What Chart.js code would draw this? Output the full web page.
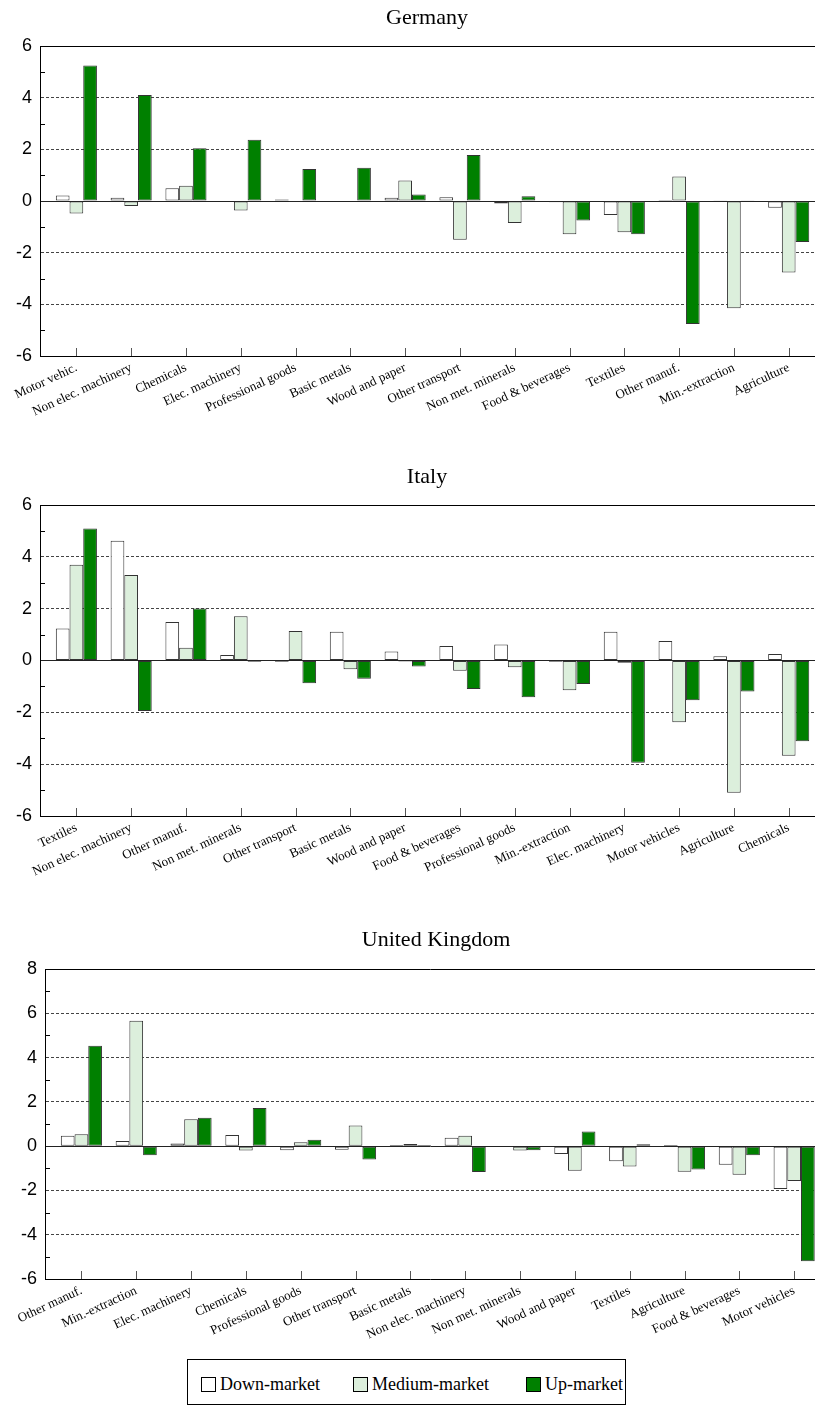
<!DOCTYPE html>
<html>
<head>
<meta charset="utf-8">
<script src="https://cdn.jsdelivr.net/npm/chart.js@4.4.1/dist/chart.umd.min.js"></script>
<style>
body { margin: 0; background: #fff; width: 815px; height: 1407px; position: relative; overflow: hidden; }
canvas { position: absolute; left: 0; }
.title { position: absolute; font-family: "Liberation Serif", "Times New Roman", serif; font-size: 22px; line-height: 22px; white-space: nowrap; transform: translateX(-50%); z-index: 2; }
#legend { position: absolute; left: 187px; top: 1359px; width: 439px; height: 46px; border: 1px solid #000; box-sizing: border-box; font-family: "Liberation Serif", "Times New Roman", serif; font-size: 18px; }
#legend .item { position: absolute; top: 15px; height: 18px; line-height: 18px; display: flex; align-items: center; white-space: nowrap; }
#legend .item i { display: inline-block; width: 15px; height: 15px; border: 1px solid #000; box-sizing: border-box; margin-right: 4px; }
</style>
</head>
<body>
<div class="title" style="left:427px; top:6px">Germany</div>
<div class="title" style="left:427px; top:465px">Italy</div>
<div class="title" style="left:436px; top:928px">United Kingdom</div>

<canvas id="de" width="815" height="430" style="top:0px"></canvas>
<canvas id="it" width="815" height="450" style="top:440px"></canvas>
<canvas id="uk" width="815" height="450" style="top:900px"></canvas>

<div id="legend">
  <span class="item" style="left:13px"><i style="background:#ffffff"></i>Down-market</span>
  <span class="item" style="left:165px"><i style="background:#dcefdc"></i>Medium-market</span>
  <span class="item" style="left:338px"><i style="background:#008000"></i>Up-market</span>
</div>

<script>
// Germany
var deCats = ['Motor vehic.', 'Non elec. machinery', 'Chemicals', 'Elec. machinery', 'Professional goods', 'Basic metals', 'Wood and paper', 'Other transport', 'Non met. minerals', 'Food & beverages', 'Textiles', 'Other manuf.', 'Min.-extraction', 'Agriculture'];
var deDown = [0.21, 0.13, 0.49, 0.02, 0.06, 0.02, 0.13, 0.15, -0.1, -0.05, -0.54, 0.04, 0.03, -0.26];
var deMedium = [-0.48, -0.19, 0.59, -0.37, -0.04, -0.03, 0.79, -1.5, -0.85, -1.29, -1.21, 0.95, -4.15, -2.77];
var deUp = [5.25, 4.1, 2.04, 2.37, 1.24, 1.29, 0.25, 1.78, 0.18, -0.75, -1.29, -4.76, 0.03, -1.59];

// Italy
var itCats = ['Textiles', 'Non elec. machinery', 'Other manuf.', 'Non met. minerals', 'Other transport', 'Basic metals', 'Wood and paper', 'Food & beverages', 'Professional goods', 'Min.-extraction', 'Elec. machinery', 'Motor vehicles', 'Agriculture', 'Chemicals'];
var itDown = [1.23, 4.62, 1.49, 0.21, -0.05, 1.11, 0.35, 0.56, 0.62, -0.05, 1.11, 0.75, 0.16, 0.25];
var itMedium = [3.69, 3.3, 0.49, 1.71, 1.14, -0.34, -0.04, -0.4, -0.26, -1.15, -0.09, -2.38, -5.1, -3.68];
var itUp = [5.09, -1.95, 2.01, -0.05, -0.88, -0.7, -0.23, -1.1, -1.42, -0.91, -3.95, -1.53, -1.2, -3.12];

// United Kingdom
var ukCats = ['Other manuf.', 'Min.-extraction', 'Elec. machinery', 'Chemicals', 'Professional goods', 'Other transport', 'Basic metals', 'Non elec. machinery', 'Non met. minerals', 'Wood and paper', 'Textiles', 'Agriculture', 'Food & beverages', 'Motor vehicles'];
var ukDown = [0.47, 0.23, 0.12, 0.5, -0.18, -0.16, 0.05, 0.38, -0.02, -0.36, -0.68, 0.05, -0.84, -1.93];
var ukMedium = [0.54, 5.66, 1.22, -0.2, 0.18, 0.93, 0.1, 0.47, -0.2, -1.11, -0.92, -1.16, -1.29, -1.57];
var ukUp = [4.53, -0.41, 1.28, 1.72, 0.29, -0.6, 0.05, -1.17, -0.18, 0.66, 0.08, -1.05, -0.41, -5.2];

var seriesNames = ['Down-market', 'Medium-market', 'Up-market'];
var seriesColors = ['#ffffff', '#dcefdc', '#008000'];

// small tick marks pointing into the plot
var innerTicks = {
    id: 'innerTicks',
    afterDraw: function (chart) {
        let ctx = chart.ctx;
        let area = chart.chartArea;
        let x = chart.scales.x;
        let y = chart.scales.y;
        ctx.save();
        ctx.strokeStyle = '#000';
        ctx.lineWidth = 1;
        ctx.beginPath();
        y.ticks.forEach(function (t) {
            if (t.value % 2 !== 0) {
                let py = Math.round(y.getPixelForValue(t.value)) + 0.5;
                ctx.moveTo(area.left, py);
                ctx.lineTo(area.left + 5, py);
            }
        });
        ctx.stroke();
        ctx.strokeStyle = '#555';
        ctx.beginPath();
        x.ticks.forEach(function (t) {
            let px = Math.round(x.getPixelForValue(t.value)) + 0.5;
            ctx.moveTo(px, area.bottom);
            ctx.lineTo(px, area.bottom - 8);
        });
        ctx.stroke();
        ctx.restore();
    }
};

function createChart(id, cats, down, medium, up, yMin, yMax, axisWidth, xMax, padTop, xAxisHeight) {
    let values = [down, medium, up];
    let datasets = values.map(function (vals, k) {
        return {
            label: seriesNames[k],
            data: vals.map(function (v, i) { return { x: i, y: v }; }),
            backgroundColor: seriesColors[k],
            borderColor: '#333',
            borderWidth: 1,
            borderSkipped: false,
            barPercentage: 1,
            categoryPercentage: 0.75
        };
    });
    let ctx = document.getElementById(id).getContext('2d');
    return new Chart(ctx, {
        type: 'bar',
        data: { datasets: datasets },
        plugins: [innerTicks],
        options: {
            responsive: false,
            animation: false,
            devicePixelRatio: 1,
            layout: { padding: { top: padTop, left: 0, right: 0, bottom: 0 } },
            plugins: { legend: { display: false }, tooltip: { enabled: false } },
            scales: {
                x: {
                    type: 'linear',
                    offset: false,
                    min: -0.664,
                    max: xMax,
                    afterBuildTicks: function (scale) {
                        scale.ticks = cats.map(function (c, i) { return { value: i }; });
                    },
                    afterFit: function (scale) {
                        scale.height = xAxisHeight;
                        scale.paddingLeft = 0;
                        scale.paddingRight = 0;
                    },
                    ticks: {
                        autoSkip: false,
                        minRotation: 25,
                        maxRotation: 25,
                        padding: 4,
                        color: '#000',
                        font: { family: 'Liberation Serif', size: 13 },
                        callback: function (v) { return cats[v] !== undefined ? cats[v] : ''; }
                    },
                    grid: { display: false, drawTicks: false },
                    border: { display: true, color: '#000', width: 1 }
                },
                y: {
                    min: yMin,
                    max: yMax,
                    afterBuildTicks: function (scale) {
                        let t = [];
                        for (let v = yMin; v <= yMax; v++) t.push({ value: v });
                        scale.ticks = t;
                    },
                    afterFit: function (scale) {
                        scale.width = axisWidth;
                    },
                    ticks: {
                        autoSkip: false,
                        padding: 8,
                        color: '#000',
                        font: { family: 'Liberation Sans', size: 18 },
                        callback: function (v) { return v % 2 === 0 ? String(v) : ''; }
                    },
                    grid: {
                        drawTicks: false,
                        lineWidth: 1,
                        color: function (c) {
                            let v = c.tick ? c.tick.value : null;
                            if (v === yMax) return '#000';
                            if (v === 0) return '#222';
                            if (v !== null && v % 2 === 0 && v !== yMin) return '#444';
                            return 'rgba(0,0,0,0)';
                        }
                    },
                    border: {
                        display: true,
                        color: '#000',
                        width: 1,
                        dash: function (c) {
                            let v = c.tick ? c.tick.value : null;
                            if (v === null || v === yMax || v === 0 || v === yMin) return [];
                            return [3, 2];
                        }
                    }
                }
            }
        }
    });
}

createChart('de', deCats, deDown, deMedium, deUp, -6, 6, 40, 13.48, 46, 74);
createChart('it', itCats, itDown, itMedium, itUp, -6, 6, 40, 13.48, 65, 74);
createChart('uk', ukCats, ukDown, ukMedium, ukUp, -6, 8, 45, 13.38, 69, 71);
</script>
</body>
</html>
